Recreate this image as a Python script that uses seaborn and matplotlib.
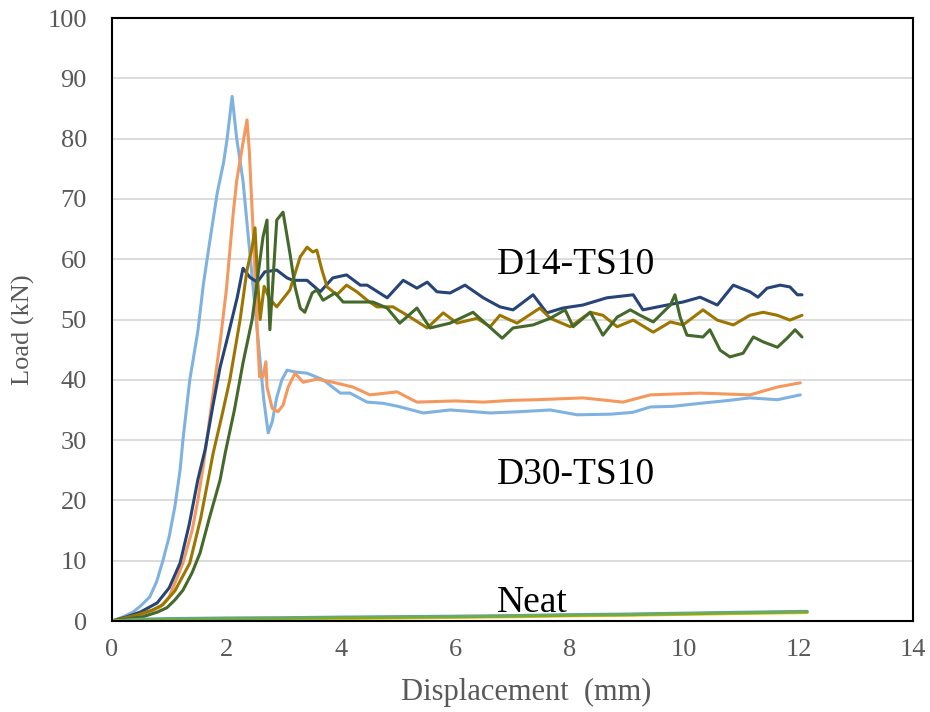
import pandas as pd
import seaborn as sns
import matplotlib
matplotlib.use("Agg")
import matplotlib.pyplot as plt

# D30-TS10 specimens
lb_x = [0, 0.2, 0.37, 0.5, 0.66, 0.78, 0.89, 1.0, 1.1, 1.19, 1.24, 1.36, 1.5, 1.6, 1.71,
        1.84, 1.95, 2.01, 2.10, 2.18, 2.29, 2.37, 2.45, 2.55, 2.65, 2.73, 2.80, 2.88, 2.97, 3.06,
        3.2, 3.41, 3.69, 3.99, 4.16, 4.46, 4.74, 5.0, 5.44, 5.91, 6.2, 6.61, 7.1, 7.66, 8.13,
        8.71, 9.1, 9.41, 9.8, 10.28, 10.7, 11.15, 11.63, 12.03]
lb_y = [0, 0.7, 1.5, 2.5, 4, 6.5, 10, 14, 19, 25, 30, 40, 48, 56, 63,
        71, 76, 79.8, 87, 80, 73, 65, 57, 47, 37, 31.2, 33, 37.1, 40, 41.6,
        41.3, 41.1, 40, 37.8, 37.8, 36.3, 36.1, 35.6, 34.5, 35, 34.8, 34.5, 34.7, 35, 34.2,
        34.3, 34.6, 35.5, 35.6, 36.1, 36.5, 37, 36.7, 37.5]

or_x = [0, 0.3, 0.6, 0.84, 1.0, 1.24, 1.4, 1.5, 1.6, 1.7, 1.8, 1.9, 2.0, 2.12, 2.18,
        2.29, 2.36, 2.40, 2.44, 2.48, 2.52, 2.55, 2.58, 2.64, 2.69, 2.71, 2.80, 2.90, 2.99, 3.08,
        3.20, 3.34, 3.58, 3.86, 4.21, 4.51, 4.98, 5.33, 6.0, 6.49, 7.0, 7.43, 8.23, 8.93, 9.41,
        10.28, 11.15, 11.63, 12.03]
or_y = [0, 0.5, 1.3, 2.3, 4, 9.6, 15, 20, 26, 33, 40, 47, 55, 67.7, 73,
        79.3, 83.1, 78, 70, 62, 53, 46, 40.5, 40.5, 43, 38.8, 35.3, 34.7, 35.8, 38.8,
        41.1, 39.6, 40.1, 39.6, 38.8, 37.5, 38, 36.3, 36.5, 36.3, 36.6, 36.7, 37, 36.3, 37.5,
        37.8, 37.5, 38.8, 39.5]

# D14-TS10 specimens
nv_x = [0, 0.26, 0.5, 0.79, 1.0, 1.19, 1.35, 1.5, 1.63, 1.76, 1.89, 2.03, 2.19, 2.29, 2.41,
        2.54, 2.67, 2.88, 3.06, 3.16, 3.41, 3.64, 3.86, 4.1, 4.34, 4.46, 4.81, 5.09, 5.33, 5.51,
        5.68, 5.91, 6.17, 6.49, 6.78, 7.01, 7.36, 7.6, 7.88, 8.23, 8.65, 9.11, 9.28, 9.7, 9.98,
        10.28, 10.58, 10.86, 11.15, 11.29, 11.45, 11.68, 11.85, 11.98, 12.06]
nv_y = [0, 0.7, 1.5, 3, 5.5, 9.6, 16, 23.4, 28.5, 35.5, 42.1, 47.4, 53.7, 58.5, 57,
        56.2, 57.9, 58.2, 56.9, 56.5, 56.5, 54.6, 56.9, 57.4, 55.7, 55.7, 53.6, 56.5, 55.2, 56.2,
        54.6, 54.4, 55.7, 53.6, 52.1, 51.6, 54.1, 51.1, 51.9, 52.4, 53.6, 54.1, 51.6, 52.4, 52.9,
        53.7, 52.4, 55.7, 54.6, 53.7, 55.2, 55.7, 55.4, 54.1, 54.1]

gd_x = [0, 0.44, 0.7, 0.89, 1.1, 1.36, 1.55, 1.68, 1.77, 1.92, 2.06, 2.24, 2.36, 2.45, 2.50,
        2.55, 2.59, 2.66, 2.75, 2.88, 3.11, 3.29, 3.41, 3.51, 3.58, 3.67, 3.76, 3.93, 4.10, 4.28,
        4.46, 4.63, 4.91, 5.16, 5.51, 5.79, 6.03, 6.38, 6.61, 6.78, 7.08, 7.48, 7.66, 8.01, 8.36,
        8.58, 8.83, 9.11, 9.46, 9.76, 9.98, 10.33, 10.58, 10.86, 11.15, 11.38, 11.63, 11.85, 12.06]
gd_y = [0, 1, 1.8, 2.7, 5, 9.6, 17, 23.4, 27.9, 34, 40, 50, 58.2, 62, 65.2,
        56, 50, 55.5, 53.5, 52.1, 54.9, 60.4, 62, 61.2, 61.5, 58.2, 55.4, 54.1, 55.7, 54.6,
        53.2, 52.1, 52.1, 50.7, 48.6, 51.1, 49.4, 50.2, 48.8, 50.7, 49.4, 51.9, 50.2, 48.8, 51.2,
        50.7, 48.8, 49.9, 47.9, 49.6, 49.1, 51.6, 49.9, 49.1, 50.7, 51.2, 50.7, 49.9, 50.7]

gr_x = [0, 0.54, 0.8, 0.96, 1.1, 1.24, 1.4, 1.54, 1.7, 1.89, 1.98, 2.14, 2.29, 2.45, 2.54,
        2.64, 2.71, 2.73, 2.76, 2.88, 2.99, 3.11, 3.20, 3.29, 3.37, 3.50, 3.58, 3.69, 3.90, 4.04,
        4.34, 4.56, 4.81, 5.03, 5.33, 5.56, 5.91, 6.31, 6.56, 6.82, 7.01, 7.36, 7.66, 7.92, 8.06,
        8.36, 8.58, 8.83, 9.06, 9.23, 9.46, 9.76, 9.84, 9.93, 10.05, 10.33, 10.45, 10.63, 10.80, 11.03,
        11.21, 11.38, 11.63, 11.80, 11.94, 12.06]
gr_y = [0, 0.7, 1.5, 2.2, 3.5, 5.1, 8, 11.3, 17, 23.4, 27.9, 35, 42.8, 50, 56.5,
        63.7, 66.5, 56, 48.3, 66.5, 67.8, 61, 55.4, 51.9, 51.2, 54.4, 54.9, 53.2, 54.4, 52.9,
        52.9, 52.9, 51.9, 49.4, 51.9, 48.6, 49.4, 51.2, 49.1, 46.9, 48.6, 49.1, 50.2, 51.6, 48.8,
        51.2, 47.4, 50.4, 51.6, 50.7, 49.6, 52.4, 54.1, 50.4, 47.4, 47.1, 48.3, 44.9, 43.8, 44.4,
        47.1, 46.3, 45.4, 46.9, 48.3, 47.1]

# neat specimens
neat_x = [0, 0.5, 1, 2, 3, 4, 5, 6, 7, 8, 9, 10, 11, 12.15]
neat1_y = [0, 0.3, 0.4, 0.5, 0.55, 0.65, 0.72, 0.8, 0.9, 1.05, 1.15, 1.3, 1.45, 1.6]
neat2_y = [0, 0.05, 0.1, 0.2, 0.3, 0.4, 0.5, 0.6, 0.7, 0.85, 0.95, 1.1, 1.25, 1.4]
neat3_y = [0, 0.2, 0.3, 0.4, 0.45, 0.55, 0.62, 0.7, 0.8, 0.95, 1.05, 1.2, 1.35, 1.5]

series = [
    ("D30-1", lb_x, lb_y, "#7FB2E1"),
    ("D30-2", or_x, or_y, "#F4985E"),
    ("D14-1", nv_x, nv_y, "#264478"),
    ("D14-2", gd_x, gd_y, "#9C7600"),
    ("D14-3", gr_x, gr_y, "#44692B"),
    ("Neat-1", neat_x, neat1_y, "#5B9BD5"),
    ("Neat-2", neat_x, neat2_y, "#FFC000"),
    ("Neat-3", neat_x, neat3_y, "#70AD47"),
]

frames = []
for name, xs, ys, _ in series:
    frames.append(pd.DataFrame({"disp": xs, "load": ys, "curve": name}))
df = pd.concat(frames, ignore_index=True)
palette = {name: c for name, _, _, c in series}

sns.set_theme(style="white")
plt.rcParams["font.family"] = ["Liberation Serif", "DejaVu Serif"]

fig, ax = plt.subplots(figsize=(9.3, 7.12), dpi=100)
fig.subplots_adjust(left=0.1204, right=0.9817, top=0.9747, bottom=0.1278)

sns.lineplot(data=df, x="disp", y="load", hue="curve", palette=palette,
             hue_order=[s[0] for s in series], sort=False, estimator=None,
             linewidth=2.2, legend=False, ax=ax)

ax.set_xlim(0, 14)
ax.set_ylim(0, 100)
ax.set_xticks(range(0, 15, 2))
ax.set_yticks(range(0, 101, 10))
ax.yaxis.grid(True, color="#D9D9D9", linewidth=1.3)
ax.xaxis.grid(False)
ax.set_axisbelow(True)
for sp in ax.spines.values():
    sp.set_color("black")
    sp.set_linewidth(1.5)
ax.tick_params(axis="both", length=0, labelsize=19, labelcolor="#595959")
ax.tick_params(axis="y", pad=18)
ax.tick_params(axis="x", pad=13)

ax.set_xlabel("Displacement  (mm)", fontsize=22, color="#595959")
ax.set_ylabel("Load (kN)", fontsize=19, color="#595959")
ax.xaxis.set_label_coords(0.517, -0.119)
ax.xaxis.label.set_verticalalignment("center")
ax.yaxis.set_label_coords(-0.111, 0.483)
ax.yaxis.label.set_verticalalignment("center")

ax.text(8.11, 57.5, "D14-TS10", ha="center", fontsize=27, color="black")
ax.text(8.11, 22.7, "D30-TS10", ha="center", fontsize=27, color="black")
ax.text(7.35, 1.5, "Neat", ha="center", fontsize=27, color="black")

fig.savefig("out.png", dpi=100)
